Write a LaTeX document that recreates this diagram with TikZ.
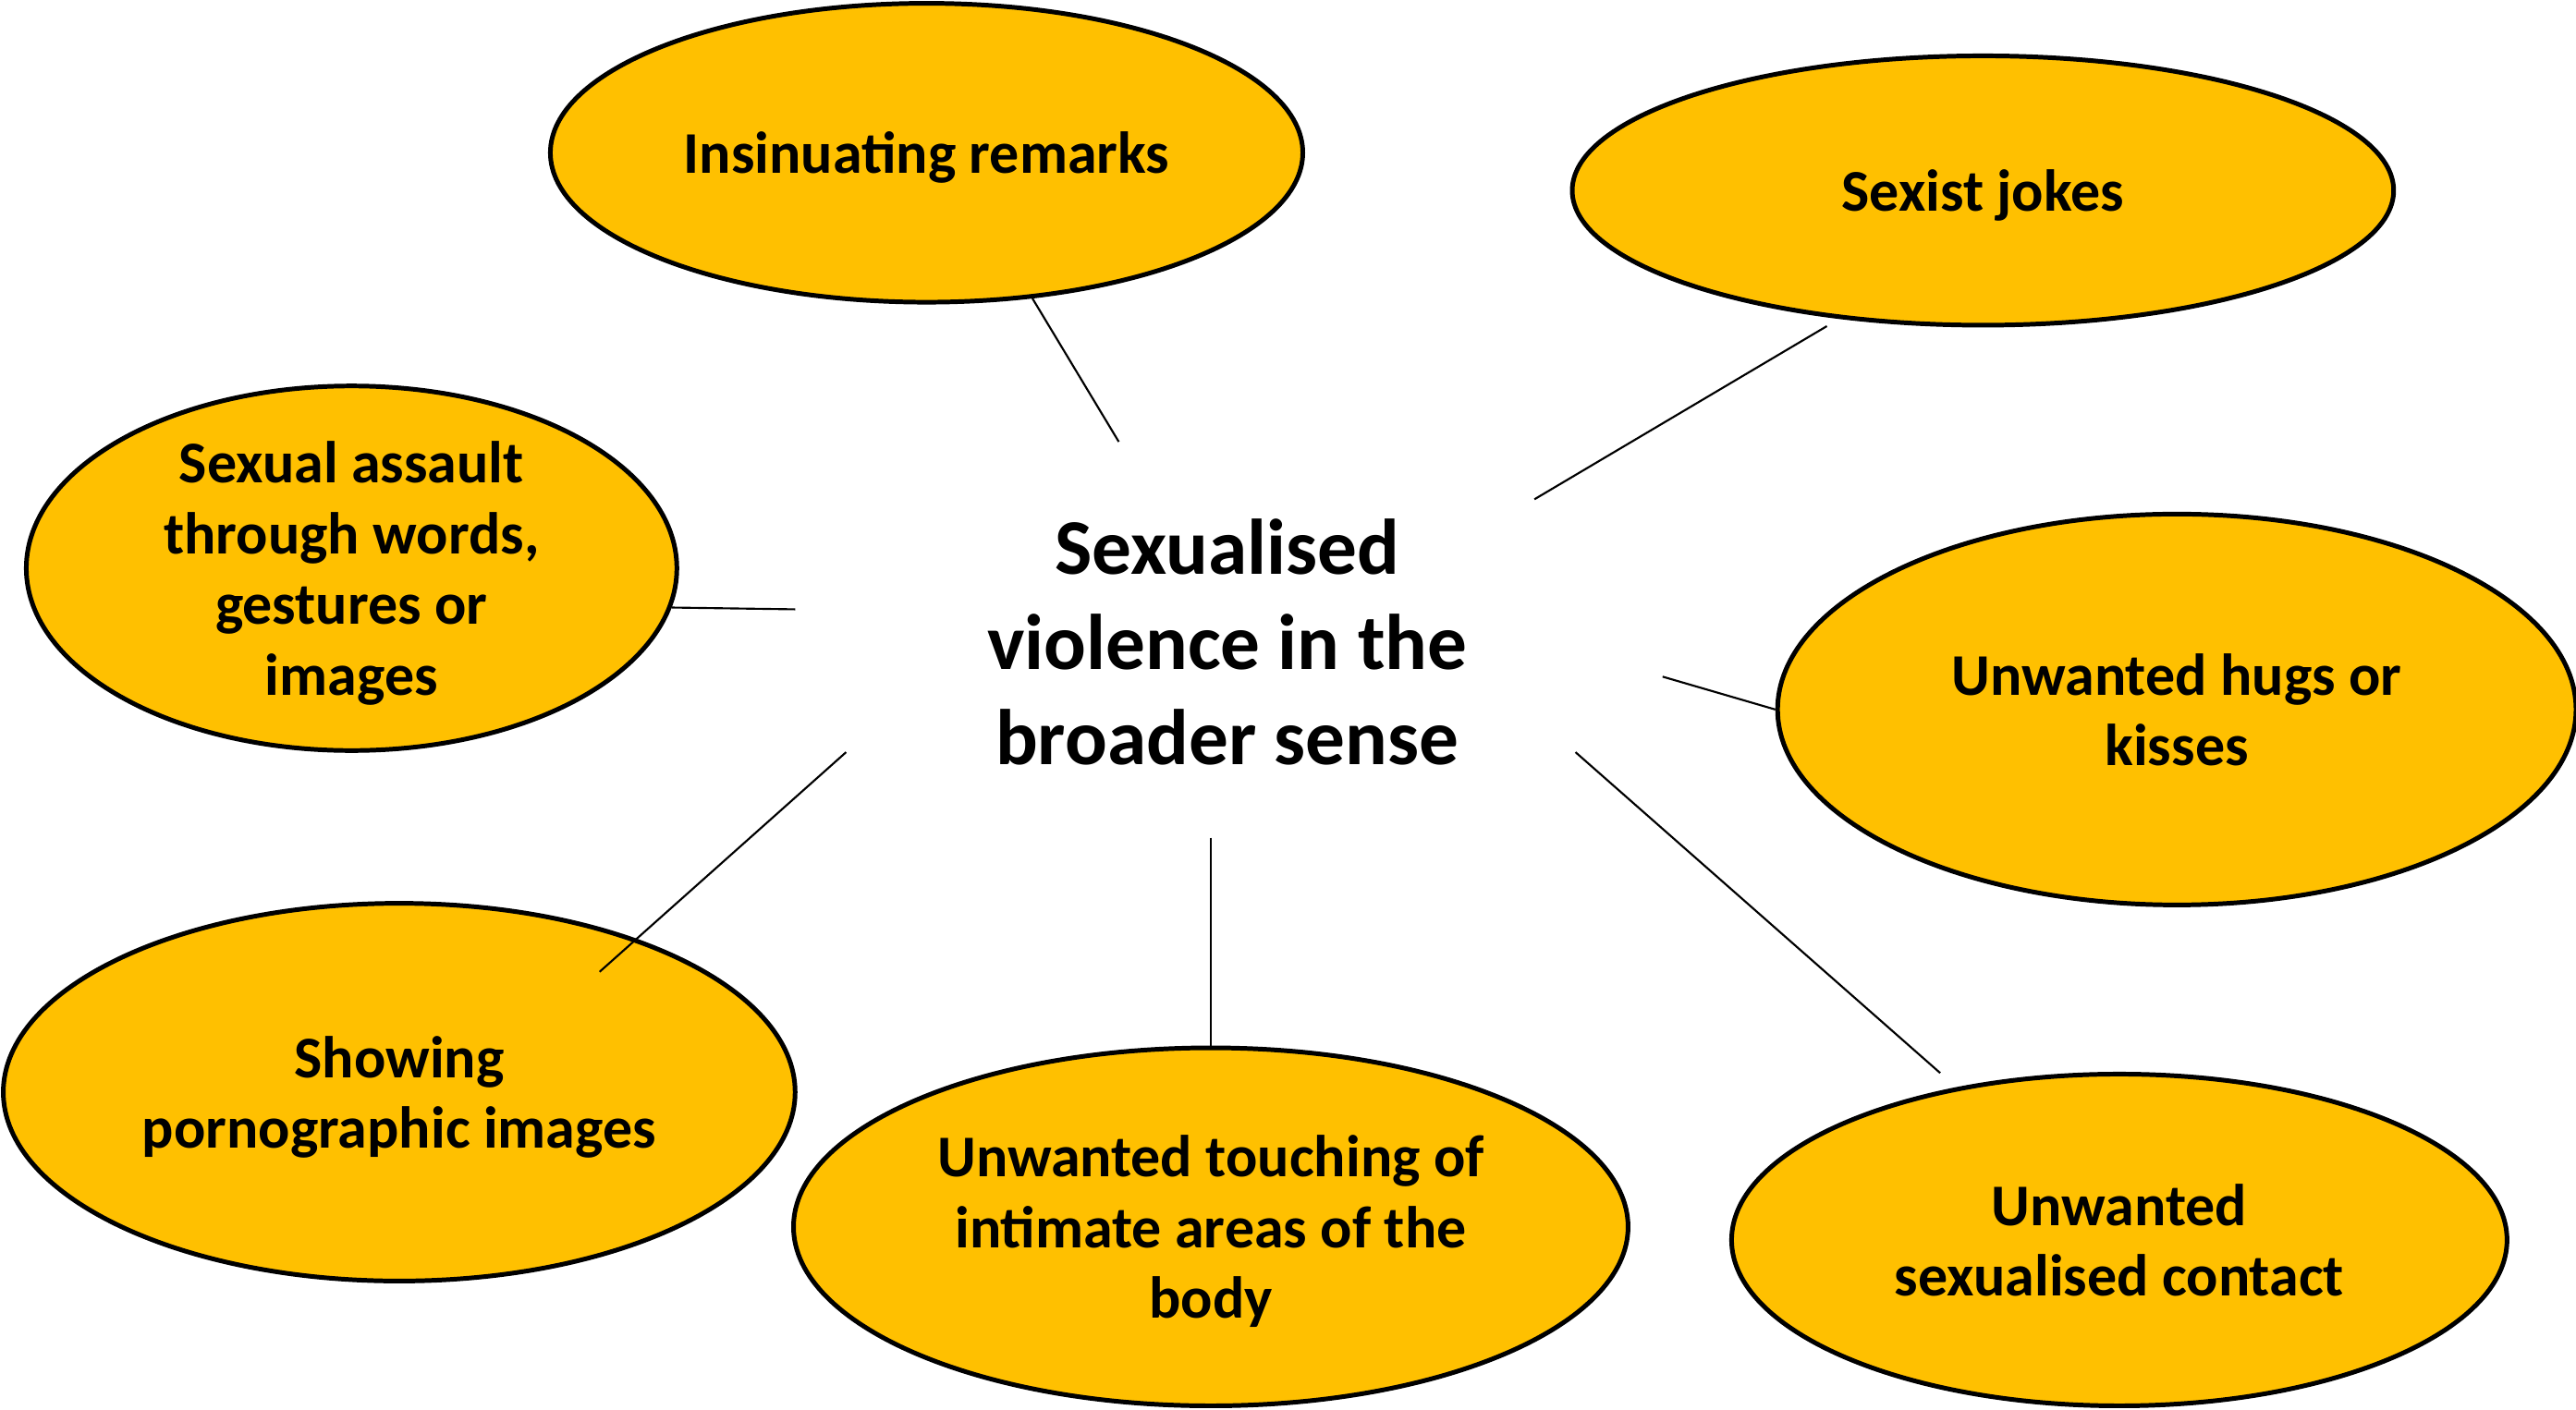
\documentclass[tikz,border=0pt]{standalone}
\usepackage{fontspec}
\setmainfont{Carlito}
\usetikzlibrary{shapes.geometric,calc}

\definecolor{bubblegold}{RGB}{255,192,0}
\tikzset{every picture/.style={line width=0.75pt}}
\tikzset{
  bubble/.style={ellipse, draw=black, line width=1.4pt, fill=bubblegold,
    inner sep=-20pt, text depth=0pt, align=center, font=\fontsize{18}{21.5}\selectfont\bfseries},
  link/.style={draw=black, line width=0.6pt}
}

\begin{document}
\begin{tikzpicture}[x=0.5pt,y=0.5pt,yscale=-1,xscale=1]
\useasboundingbox (0,0) rectangle (1568,858);

%Shape: Ellipse [insin]
\node [bubble, minimum width=229pt, minimum height=91pt] (insin) at (564,93) {Insinuating remarks};
%Shape: Ellipse [sexist]
\node [bubble, minimum width=250pt, minimum height=82pt] (sexist) at (1207,116) {Sexist jokes};
%Shape: Ellipse [assault]
\node [bubble, minimum width=198pt, minimum height=111pt] (assault) at (214,346) {Sexual assault\\through words,\\gestures or\\images};
%Shape: Ellipse [hugs]
\node [bubble, minimum width=243pt, minimum height=119pt] (hugs) at (1325,432) {Unwanted hugs or\\kisses};
%Shape: Ellipse [touch]
\node [bubble, minimum width=254pt, minimum height=109pt] (touch) at (737,747) {Unwanted touching of\\intimate areas of the\\body};
%Shape: Ellipse [contact]
\node [bubble, minimum width=236pt, minimum height=101pt] (contact) at (1290,755) {Unwanted\\sexualised contact};
%Shape: Ellipse [show]
\node [bubble, minimum width=241pt, minimum height=115pt] (show) at (243,665) {Showing\\pornographic images};

% Text Node
\node [align=center, inner sep=0.75pt, font=\fontsize{24}{29}\selectfont\bfseries] (topic) at (747,391) {Sexualised\\violence in the\\broader sense};

% free ends round the centre
\coordinate (c1) at (681,269);
\coordinate (c2) at (934,304);
\coordinate (c3) at (484,371);
\coordinate (c4) at (1012,412);
\coordinate (c5) at (515,458);
\coordinate (c6) at (737,510);
\coordinate (c7) at (959,458);

%Straight Lines
\draw [link] (c1) -- (insin.-54.7);
\draw [link] (c2) -- ($(sexist)!1.06!(sexist.-139.8)$);
\draw [link] (c3) -- (assault.-7.2);
\draw [link] (c4) -- (hugs.west);
\draw [link] (c5) -- ($(show)!0.806!(show.31.3)$);
\draw [link] (c6) -- (touch.north);
\draw [link] (c7) -- ($(contact)!1.094!(contact.137.7)$);

\end{tikzpicture}
\end{document}
